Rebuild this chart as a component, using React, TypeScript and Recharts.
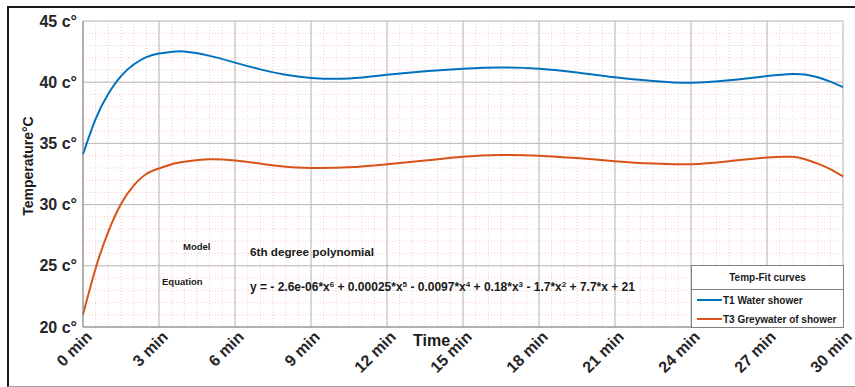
import React from "react";
import {
  LineChart,
  Line,
  XAxis,
  YAxis,
  CartesianGrid,
} from "recharts";

const minutes = [
  0, 0.5, 1, 1.5, 2, 2.5, 3, 3.5, 4, 5, 6, 7, 8, 9, 10.5, 12, 13.5, 15, 16.5,
  18, 19.5, 21, 22.5, 24, 25.5, 27, 28, 28.5, 29, 29.5, 30,
];

const t1WaterShower = [
  34.1, 37.0, 39.05, 40.5, 41.45, 42.05, 42.35, 42.48, 42.5, 42.15, 41.6,
  41.05, 40.6, 40.35, 40.3, 40.6, 40.9, 41.1, 41.2, 41.1, 40.8, 40.4, 40.1,
  39.95, 40.15, 40.5, 40.67, 40.62, 40.4, 40.05, 39.6,
];

const t3Greywater = [
  21.0, 24.8, 27.8, 30.05, 31.55, 32.5, 32.95, 33.3, 33.5, 33.7, 33.6, 33.35,
  33.1, 33.0, 33.05, 33.3, 33.6, 33.9, 34.05, 34.0, 33.8, 33.55, 33.35, 33.3,
  33.55, 33.85, 33.9, 33.7, 33.35, 32.9, 32.3,
];

const xTicks = [0, 3, 6, 9, 12, 15, 18, 21, 24, 27, 30];
const yTicks = [20, 25, 30, 35, 40, 45];

// minor grid: every half minute, every degree
const xMinor: number[] = [];
for (let i = 0; i <= 60; i++) xMinor.push(i / 2);
const yMinor: number[] = [];
for (let i = 20; i <= 45; i++) yMinor.push(i);

const data = minutes.map((t, i) => ({
  t,
  t1: t1WaterShower[i],
  t3: t3Greywater[i],
}));

const FONT = "'Liberation Sans', Arial, sans-serif";
const BLUE = "#0072BD";
const ORANGE = "#D95319";

const XTick = (props: any) => {
  const { x, y, payload } = props;
  const ax = x + 2;
  const ay = y + 1;
  return (
    <text
      x={ax}
      y={ay}
      transform={`rotate(-45, ${ax}, ${ay})`}
      textAnchor="end"
      dominantBaseline="hanging"
      fontFamily={FONT}
      fontWeight="bold"
      fontSize={16}
      fill="#262626"
    >
      {`${payload.value} min`}
    </text>
  );
};

const txt: React.CSSProperties = {
  position: "absolute",
  fontFamily: FONT,
  fontWeight: "bold",
  color: "#1a1a1a",
  whiteSpace: "nowrap",
  lineHeight: 1,
};

const sup: React.CSSProperties = { fontSize: 8, verticalAlign: 4, lineHeight: 1 };

const App: React.FC = () => {
  return (
    <div
      style={{
        position: "absolute",
        left: 0,
        top: 0,
        width: 855,
        height: 387,
        background: "#fff",
        overflow: "hidden",
      }}
    >
      <LineChart
        width={855}
        height={387}
        data={data}
        margin={{ top: 21, right: 12, bottom: 0, left: 0 }}
      >
        <CartesianGrid
          stroke="#f4a8a8"
          strokeDasharray="1 2"
          strokeOpacity={0.6}
          horizontalValues={yMinor}
          verticalValues={xMinor}
        />
        <CartesianGrid
          stroke="#b8b8b8"
          horizontalValues={yTicks}
          verticalValues={xTicks}
        />
        <XAxis
          dataKey="t"
          type="number"
          domain={[0, 30]}
          ticks={xTicks}
          interval={0}
          height={60}
          tickSize={0}
          axisLine={{ stroke: "#8a8a8a" }}
          tick={<XTick />}
        />
        <YAxis
          type="number"
          domain={[20, 45]}
          ticks={yTicks}
          interval={0}
          width={83}
          tickSize={0}
          tickMargin={6}
          axisLine={{ stroke: "#8a8a8a" }}
          tickFormatter={(v: number) => `${v} c°`}
          tick={{
            fill: "#262626",
            fontSize: 16,
            fontWeight: "bold",
            fontFamily: FONT,
          }}
        />
        <Line
          type="natural"
          dataKey="t1"
          stroke={BLUE}
          strokeWidth={2}
          dot={false}
          isAnimationActive={false}
        />
        <Line
          type="natural"
          dataKey="t3"
          stroke={ORANGE}
          strokeWidth={2}
          dot={false}
          isAnimationActive={false}
        />
      </LineChart>

      {/* outer figure frame */}
      <div
        style={{
          position: "absolute",
          left: 7,
          top: 6,
          width: 846,
          height: 378,
          borderTop: "2px solid #1a1a1a",
          borderLeft: "2px solid #1a1a1a",
          borderBottom: "1px solid #a0a0a0",
          pointerEvents: "none",
        }}
      />

      <div
        style={{
          ...txt,
          left: 28,
          top: 166,
          fontSize: 14,
          transform: "translate(-50%, -50%) rotate(-90deg)",
        }}
      >
        Temperature°C
      </div>

      <div style={{ ...txt, left: 413, top: 333, fontSize: 16 }}>Time</div>

      <div style={{ ...txt, left: 183, top: 242, fontSize: 9.5 }}>Model</div>
      <div style={{ ...txt, left: 250, top: 246, fontSize: 11.7 }}>
        6th degree polynomial
      </div>
      <div style={{ ...txt, left: 162, top: 277, fontSize: 9.5 }}>Equation</div>
      <div style={{ ...txt, left: 250, top: 281, fontSize: 12 }}>
        y = - 2.6e-06*x<sup style={sup}>6</sup> + 0.00025*x
        <sup style={sup}>5</sup> - 0.0097*x<sup style={sup}>4</sup> + 0.18*x
        <sup style={sup}>3</sup> - 1.7*x<sup style={sup}>2</sup> + 7.7*x + 21
      </div>

      {/* legend */}
      <div
        style={{
          position: "absolute",
          left: 691,
          top: 265,
          width: 151,
          height: 61,
          background: "#fff",
          border: "1px solid #808080",
          fontFamily: FONT,
          fontWeight: "bold",
          fontSize: 10,
          color: "#1a1a1a",
        }}
      >
        <div
          style={{
            height: 23,
            lineHeight: "23px",
            textAlign: "center",
            borderBottom: "1px solid #808080",
          }}
        >
          Temp-Fit curves
        </div>
        {[
          { name: "T1 Water shower", color: BLUE },
          { name: "T3 Greywater of shower", color: ORANGE },
        ].map((it) => (
          <div
            key={it.name}
            style={{
              height: 18,
              display: "flex",
              alignItems: "center",
              paddingLeft: 5,
              marginTop: 1,
            }}
          >
            <span
              style={{
                display: "inline-block",
                width: 25,
                height: 2,
                background: it.color,
                marginRight: 1,
              }}
            />
            {it.name}
          </div>
        ))}
      </div>
    </div>
  );
};

export default App;
